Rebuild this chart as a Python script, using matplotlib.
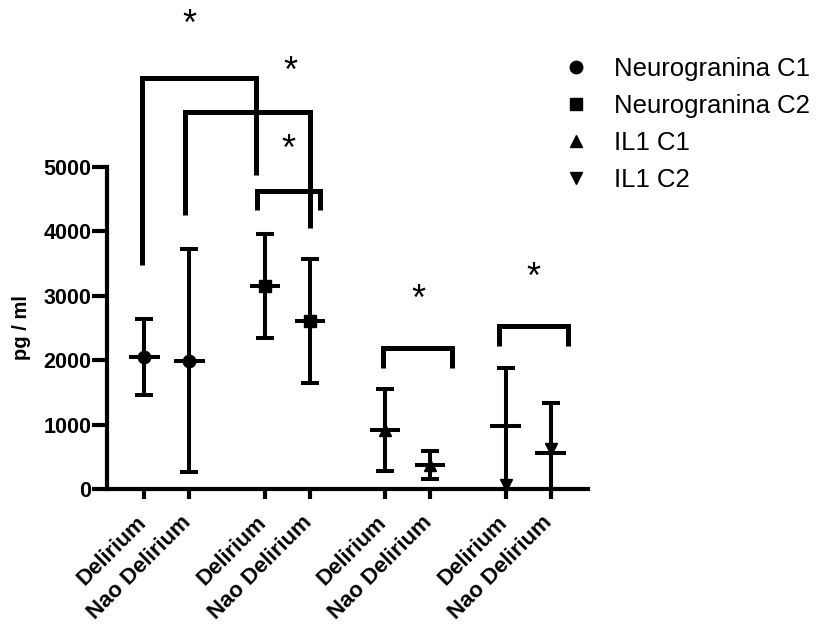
import matplotlib
matplotlib.use("Agg")
import matplotlib.pyplot as plt
from matplotlib.lines import Line2D
from matplotlib.transforms import ScaledTranslation

plt.rcParams['font.family'] = ['Liberation Sans', 'DejaVu Sans']

# ---- data ----
tick_labels = ["Delirium", "Nao Delirium"] * 4
positions = [0, 1, 2.68, 3.68, 5.35, 6.35, 8.03, 9.03]
series_names = ["Neurogranina C1", "Neurogranina C2", "IL1 C1", "IL1 C2"]
series_markers = ["o", "s", "^", "v"]
series_of_point = [0, 0, 1, 1, 2, 2, 3, 3]
means = [2050, 1988, 3152, 2609, 921, 373, 974, 559]
upper = [2644, 3727, 3960, 3571, 1548, 590, 1874, 1340]
lower = [1464, 264, 2349, 1641, 275, 155, 0, 0]
marker_vals = [2050, 1988, 3152, 2609, 921, 373, 60, 620]

# significance brackets: (x_left, x_right, y_top, y_left_bottom, y_right_bottom)
brackets_xl = [-0.05, 0.90, 2.50, 5.31, 7.89]
brackets_xr = [2.48, 3.68, 3.90, 6.83, 9.42]
brackets_top = [6377, 5859, 4632, 2185, 2531]
brackets_lb = [3478, 4255, 4332, 1879, 2220]
brackets_rb = [4876, 4053, 4332, 1879, 2220]
stars_x = [1.01, 3.24, 3.19, 6.08, 8.64]
stars_y = [7200, 6470, 5260, 2930, 3270]

yticks = [0, 1000, 2000, 3000, 4000, 5000]

# ---- figure ----
W, H = 819, 625
fig = plt.figure(figsize=(W / 100, H / 100), dpi=100)
ax_left, ax_right, ax_bottom_px = 106.7, 588, 489
ax = fig.add_axes([ax_left / W, (H - ax_bottom_px) / H, (ax_right - ax_left) / W, ax_bottom_px / H])
ax.set_xlim(-0.838, 9.858)
ax.set_ylim(0, 489 / 0.0644)

lw = 2.9
for i, p in enumerate(positions):
    m = means[i]
    ax.errorbar([p], [m], yerr=[[m - lower[i]], [upper[i] - m]], fmt='none',
                ecolor='black', elinewidth=lw, capsize=6.5, capthick=lw, zorder=2)
    ax.hlines(m, p - 0.34, p + 0.34, color='black', lw=lw, zorder=2)
    mk = series_markers[series_of_point[i]]
    ax.plot([p], [marker_vals[i]], marker=mk, color='black', ms=9,
            ls='none', zorder=3)

for xl, xr, yt, yl, yr in zip(brackets_xl, brackets_xr, brackets_top, brackets_lb, brackets_rb):
    ax.plot([xl, xl, xr, xr], [yl, yt, yt, yr], color='black', lw=3.6,
            solid_capstyle='butt', solid_joinstyle='miter', zorder=2)
for sx, sy in zip(stars_x, stars_y):
    ax.text(sx, sy, "*", ha='center', va='center', fontsize=26, color='black')

for s in ['top', 'right']:
    ax.spines[s].set_visible(False)
for s in ['left', 'bottom']:
    ax.spines[s].set_linewidth(3)
    ax.spines[s].set_zorder(4)
ax.spines['left'].set_bounds(0, 5000)

ax.set_yticks(yticks)
ax.set_yticklabels([str(v) for v in yticks], fontsize=15.5, fontweight='bold')
ax.set_xticks(positions)
ax.set_xticklabels(tick_labels, fontsize=16, fontweight='bold', rotation=45,
                   ha='right', rotation_mode='default')
ax.tick_params(axis='y', direction='out', length=10.5, width=3, color='black', pad=0.5)
ax.tick_params(axis='x', direction='out', length=7.5, width=3, color='black', pad=10.5)
off = ScaledTranslation(6 / 100, 2 / 100, fig.dpi_scale_trans)
for lab in ax.get_xticklabels():
    lab.set_transform(lab.get_transform() + off)
ax.set_ylabel("pg / ml", fontsize=14.5, fontweight='bold')
ax.yaxis.set_label_coords(-0.1575, 5000 / 2 / (489 / 0.0644), transform=ax.transAxes)

handles = [Line2D([], [], marker=m, color='black', ls='none', ms=9) for m in series_markers]
fig.legend(handles, series_names, loc='upper left', bbox_to_anchor=(557 / W, 1 - 57 / H),
           frameon=False, fontsize=18.5, handletextpad=0.7, labelspacing=0.5,
           handlelength=1.5, borderaxespad=0, borderpad=0)

fig.savefig("out.png", dpi=100)
